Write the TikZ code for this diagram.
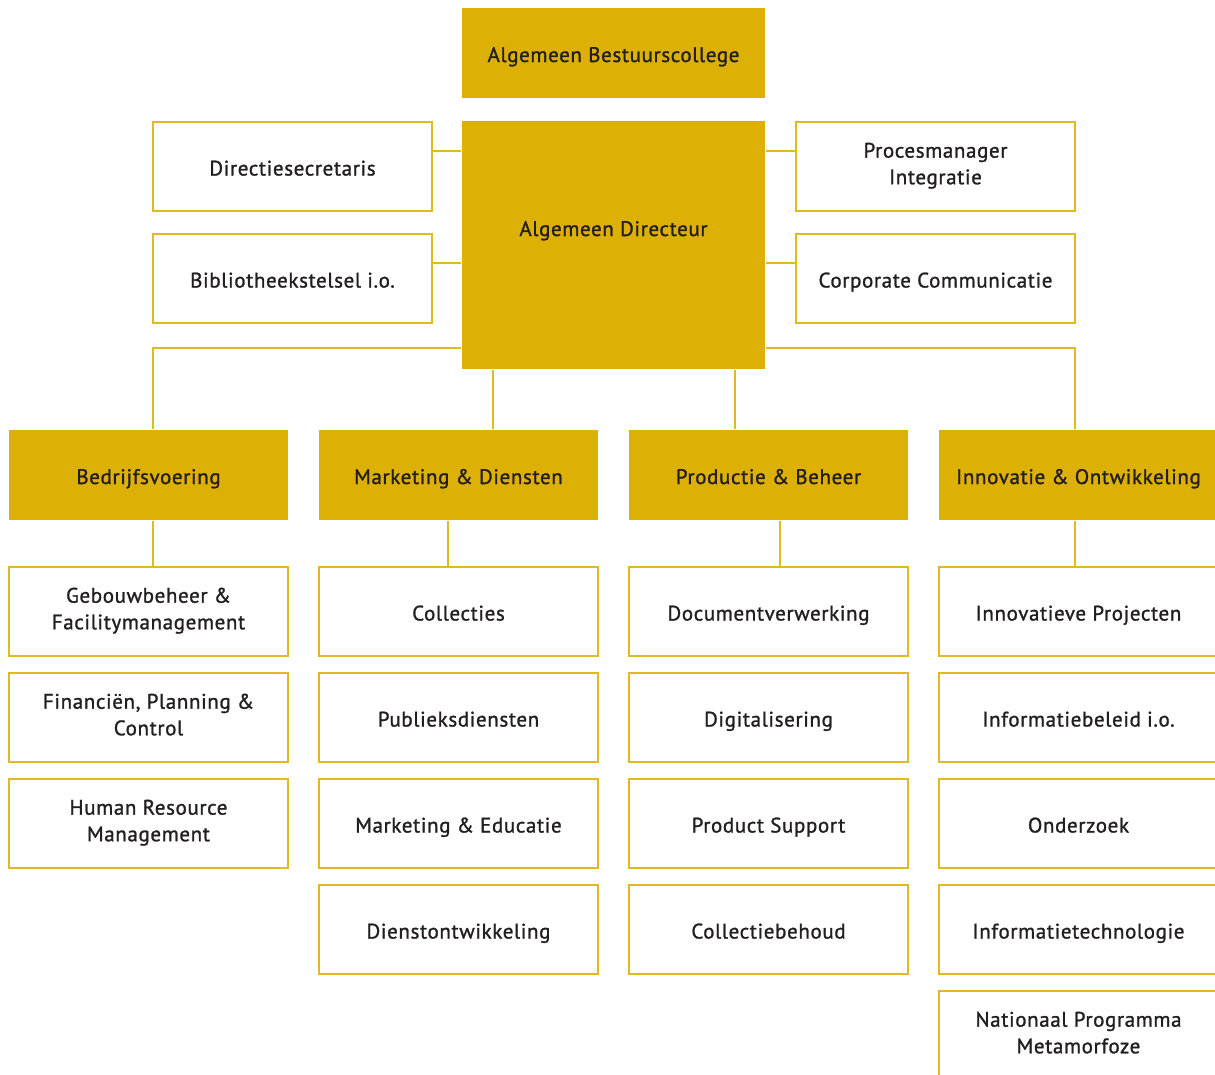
\documentclass[tikz,border=0pt]{standalone}
\usepackage{fontspec}
\setmainfont[LetterSpace=3,UprightFeatures={FakeBold=1.2}]{PT Sans}
\usetikzlibrary{positioning}
\definecolor{gold}{RGB}{220,176,5}
\definecolor{goldline}{RGB}{225,186,35}
\definecolor{txt}{RGB}{35,31,32}
\newcommand\mytopstrut{\rule{0pt}{24pt}}
\newcommand\mybotstrut{\rule[-6pt]{0pt}{6pt}}
\tikzset{
  x=1pt,y=-1pt,
  base/.style={rectangle,inner sep=0pt,align=center,text=txt,font=\fontsize{21}{26.6}\selectfont,
    execute at begin node=\mytopstrut,execute at end node=\mybotstrut,
    minimum width=279pt,minimum height=89pt,line width=1.5pt},
  goldbox/.style={base,fill=gold},
  whitebox/.style={base,draw=goldline,fill=white},
  conn/.style={draw=goldline,line width=1.6pt}
}
\begin{document}
\begin{tikzpicture}
\useasboundingbox (0,0) rectangle (1215,1074);
\clip (0,0) rectangle (1215,1074);
% top
\node[goldbox,minimum width=303pt,minimum height=90pt] (bc) at (613.5,53) {Algemeen Bestuurscollege};
\node[goldbox,minimum width=303pt,minimum height=248pt,execute at begin node={},execute at end node={}] (ad) at (613.5,245) {};
\node[base,minimum width=0pt,minimum height=0pt] (adt) at (613.5,227) {Algemeen Directeur};
% staff
\node[whitebox] (ds) at (292.5,166.5) {Directiesecretaris};
\node[whitebox] (bib) at (292.5,278.5) {Bibliotheekstelsel i.o.};
\node[whitebox] (pm) at (935.5,166.5) {Procesmanager\\Integratie};
\node[whitebox] (cc) at (935.5,278.5) {Corporate Communicatie};
% departments
\node[goldbox,minimum height=90pt] (bv) at (148.5,475) {Bedrijfsvoering};
\node[goldbox,minimum height=90pt] (md) at (458.5,475) {Marketing \& Diensten};
\node[goldbox,minimum height=90pt] (pb) at (768.5,475) {Productie \& Beheer};
\node[goldbox,minimum height=90pt] (io) at (1078.5,475) {Innovatie \& Ontwikkeling};
% column 1
\node[whitebox] (b1) at (148.5,611.5) {Gebouwbeheer \&\\Facilitymanagement};
\node[whitebox] (b2) at (148.5,717.5) {Financiën, Planning \&\\Control};
\node[whitebox] (b3) at (148.5,823.5) {Human Resource\\Management};
% column 2
\node[whitebox] (m1) at (458.5,611.5) {Collecties};
\node[whitebox] (m2) at (458.5,717.5) {Publieksdiensten};
\node[whitebox] (m3) at (458.5,823.5) {Marketing \& Educatie};
\node[whitebox] (m4) at (458.5,929.5) {Dienstontwikkeling};
% column 3
\node[whitebox] (p1) at (768.5,611.5) {Documentverwerking};
\node[whitebox] (p2) at (768.5,717.5) {Digitalisering};
\node[whitebox] (p3) at (768.5,823.5) {Product Support};
\node[whitebox] (p4) at (768.5,929.5) {Collectiebehoud};
% column 4
\node[whitebox] (i1) at (1078.5,611.5) {Innovatieve Projecten};
\node[whitebox] (i2) at (1078.5,717.5) {Informatiebeleid i.o.};
\node[whitebox] (i3) at (1078.5,823.5) {Onderzoek};
\node[whitebox] (i4) at (1078.5,929.5) {Informatietechnologie};
\node[whitebox] (i5) at (1078.5,1035.5) {Nationaal Programma\\Metamorfoze};
% staff connectors
\draw[conn] ([yshift=-29.5pt]ds.north east) -- ([yshift=-29.5pt]ds.north east -| ad.west);
\draw[conn] ([yshift=-29.5pt]bib.north east) -- ([yshift=-29.5pt]bib.north east -| ad.west);
\draw[conn] ([yshift=-29.5pt]pm.north west) -- ([yshift=-29.5pt]pm.north west -| ad.east);
\draw[conn] ([yshift=-29.5pt]cc.north west) -- ([yshift=-29.5pt]cc.north west -| ad.east);
% department connectors
\coordinate (bvx) at (153,0);
\coordinate (mdx) at (493,0);
\coordinate (pbx) at (735,0);
\coordinate (iox) at (1075,0);
\coordinate (m1x) at (448,0);
\coordinate (p1x) at (780,0);
\draw[conn] ([yshift=21.5pt]ad.south west) -| (bvx |- bv.north);
\draw[conn] ([yshift=21.5pt]ad.south east) -| (iox |- io.north);
\draw[conn] (mdx |- ad.south) -- (mdx |- md.north);
\draw[conn] (pbx |- ad.south) -- (pbx |- pb.north);
% sub connectors
\draw[conn] (bvx |- bv.south) -- (bvx |- b1.north);
\draw[conn] (m1x |- md.south) -- (m1x |- m1.north);
\draw[conn] (p1x |- pb.south) -- (p1x |- p1.north);
\draw[conn] (iox |- io.south) -- (iox |- i1.north);
\end{tikzpicture}
\end{document}
